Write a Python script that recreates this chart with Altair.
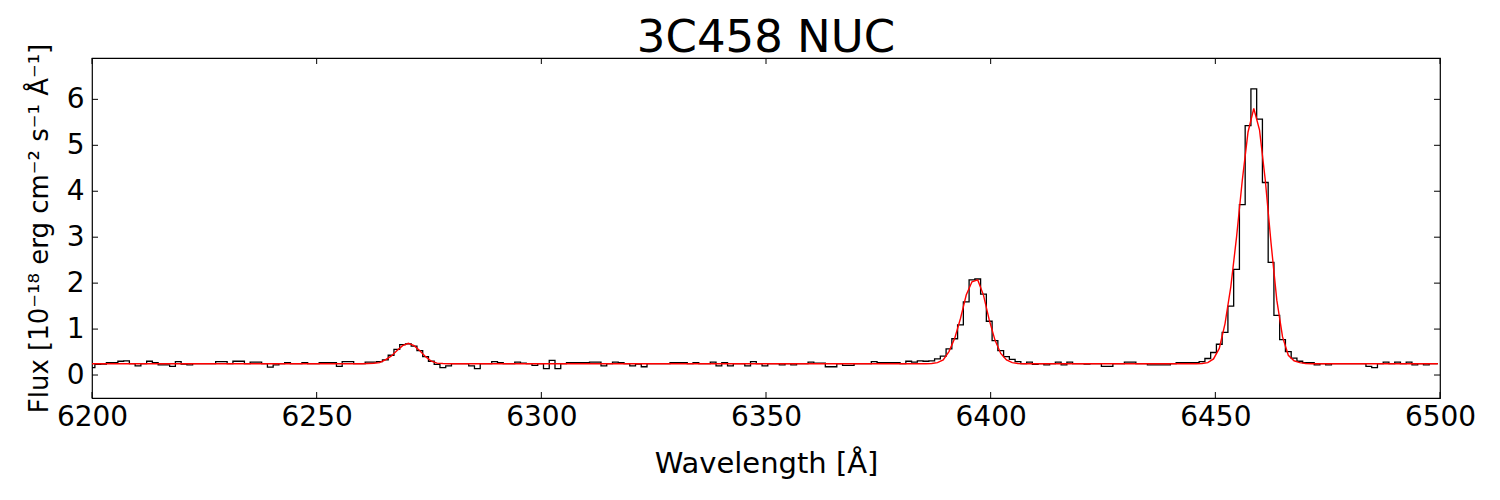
import altair as alt
import pandas as pd

# ---- data ----
bin_start = 6200.0
bin_width = 1.28
flux = [
    0.16, 0.23, 0.24, 0.27, 0.27, 0.30, 0.31, 0.25, 0.20, 0.25,
    0.30, 0.27, 0.22, 0.22, 0.19, 0.29, 0.24, 0.22, 0.25, 0.25,
    0.25, 0.25, 0.29, 0.29, 0.25, 0.30, 0.30, 0.25, 0.28, 0.28,
    0.25, 0.17, 0.22, 0.25, 0.27, 0.25, 0.25, 0.27, 0.25, 0.25,
    0.27, 0.27, 0.27, 0.19, 0.29, 0.29, 0.25, 0.25, 0.28, 0.28,
    0.29, 0.33, 0.43, 0.56, 0.66, 0.68, 0.63, 0.53, 0.40, 0.30,
    0.23, 0.16, 0.20, 0.25, 0.25, 0.25, 0.20, 0.14, 0.25, 0.25,
    0.29, 0.27, 0.25, 0.25, 0.28, 0.26, 0.25, 0.21, 0.25, 0.14,
    0.32, 0.14, 0.25, 0.27, 0.27, 0.27, 0.27, 0.28, 0.28, 0.20,
    0.25, 0.28, 0.27, 0.25, 0.20, 0.24, 0.18, 0.25, 0.25, 0.25,
    0.25, 0.27, 0.27, 0.27, 0.25, 0.27, 0.25, 0.25, 0.28, 0.20,
    0.27, 0.20, 0.25, 0.25, 0.20, 0.29, 0.25, 0.20, 0.25, 0.25,
    0.22, 0.25, 0.22, 0.25, 0.25, 0.28, 0.26, 0.26, 0.18, 0.18,
    0.25, 0.21, 0.21, 0.25, 0.25, 0.25, 0.29, 0.27, 0.27, 0.27,
    0.27, 0.25, 0.30, 0.28, 0.31, 0.30, 0.31, 0.35, 0.41, 0.57,
    0.79, 1.09, 1.59, 2.07, 2.09, 1.76, 1.17, 0.75, 0.53, 0.40,
    0.34, 0.29, 0.25, 0.28, 0.23, 0.25, 0.22, 0.25, 0.28, 0.22,
    0.28, 0.25, 0.25, 0.24, 0.25, 0.25, 0.19, 0.19, 0.25, 0.25,
    0.28, 0.28, 0.25, 0.25, 0.22, 0.22, 0.22, 0.22, 0.25, 0.27,
    0.27, 0.27, 0.27, 0.29, 0.36, 0.49, 0.67, 0.93, 1.50, 2.30,
    3.71, 5.43, 6.23, 5.57, 4.19, 2.45, 1.30, 0.77, 0.51, 0.37,
    0.30, 0.27, 0.27, 0.22, 0.25, 0.22, 0.25, 0.25, 0.25, 0.25,
    0.25, 0.25, 0.19, 0.16, 0.25, 0.28, 0.25, 0.28, 0.25, 0.28,
    0.22, 0.25, 0.22, 0.25, 0.25,
]

model_bins = [
    0, 47, 48, 49, 50, 51, 52, 53, 54, 55, 56, 57, 58, 59, 60, 61, 62,
    145, 146, 147, 148, 149, 150, 151, 152, 153, 154, 155, 156, 157, 158,
    159, 160, 161, 162,
    192, 193, 194, 195, 196, 197, 198, 199, 200, 201, 202, 203, 204, 205,
    206, 207, 208, 209, 210, 211, 212, 234,
]
model_flux = [
    0.245, 0.245, 0.25, 0.255, 0.27, 0.33, 0.41, 0.53, 0.64, 0.69, 0.64,
    0.53, 0.40, 0.30, 0.26, 0.25, 0.245,
    0.245, 0.25, 0.27, 0.33, 0.51, 0.80, 1.23, 1.74, 2.03, 2.07, 1.74,
    1.20, 0.76, 0.47, 0.33, 0.27, 0.25, 0.245,
    0.245, 0.25, 0.27, 0.35, 0.58, 1.12, 1.92, 3.00, 4.24, 5.29, 5.80,
    5.33, 4.24, 2.87, 1.63, 0.83, 0.43, 0.31, 0.27, 0.25, 0.245, 0.245,
]

x_ticks = [6200, 6250, 6300, 6350, 6400, 6450, 6500]
y_ticks = [0, 1, 2, 3, 4, 5, 6]

title_text = "3C458 NUC"
x_title = "Wavelength [Å]"
y_title = "Flux [10⁻¹⁸ erg cm⁻² s⁻¹ Å⁻¹]"

# ---- build tables ----
spec_df = pd.DataFrame({
    "wave": [bin_start + i * bin_width for i in range(len(flux))],
    "flux": flux,
})
model_df = pd.DataFrame({
    "wave": [bin_start + b * bin_width for b in model_bins],
    "flux": model_flux,
})
xt_df = pd.DataFrame({"wave": x_ticks})
yt_df = pd.DataFrame({"flux": y_ticks})
title_df = pd.DataFrame({"label": [title_text]})

W, H = 1348, 340
FONT = "DejaVu Sans"

xscale = alt.Scale(domain=[6200, 6500], nice=False, zero=False)
yscale = alt.Scale(domain=[-0.5, 6.9], nice=False, zero=False)

x_enc = alt.X("wave:Q", scale=xscale,
              axis=alt.Axis(values=x_ticks, format="d", title=x_title,
                            labelPadding=5, titlePadding=18,
                            labelFontSize=28, titleFontSize=29,
                            labelFont=FONT, titleFont=FONT,
                            labelColor="black", titleColor="black",
                            titleFontWeight="normal", labelFlush=False,
                            labelOverlap=False,
                            ticks=False, domain=False, grid=False))
y_enc = alt.Y("flux:Q", scale=yscale,
              axis=alt.Axis(values=y_ticks, format="d", title=y_title,
                            labelPadding=8, titlePadding=14,
                            labelFontSize=28, titleFontSize=26,
                            labelFont=FONT, titleFont=FONT,
                            labelColor="black", titleColor="black",
                            titleFontWeight="normal", labelFlush=False,
                            labelOverlap=False,
                            ticks=False, domain=False, grid=False))

spectrum = alt.Chart(spec_df).mark_line(
    interpolate="step", color="black", strokeWidth=1.3, clip=True
).encode(x=x_enc, y=y_enc)

model = alt.Chart(model_df).mark_line(
    color="#ff0000", strokeWidth=1.4, clip=True
).encode(x=alt.X("wave:Q", scale=xscale), y=alt.Y("flux:Q", scale=yscale))

xt_bottom = alt.Chart(xt_df).mark_rule(color="black", strokeWidth=1).encode(
    x=alt.X("wave:Q", scale=xscale), y=alt.value(H), y2=alt.value(H - 6))
xt_top = alt.Chart(xt_df).mark_rule(color="black", strokeWidth=1).encode(
    x=alt.X("wave:Q", scale=xscale), y=alt.value(0), y2=alt.value(6))
yt_left = alt.Chart(yt_df).mark_rule(color="black", strokeWidth=1).encode(
    y=alt.Y("flux:Q", scale=yscale), x=alt.value(0), x2=alt.value(6))
yt_right = alt.Chart(yt_df).mark_rule(color="black", strokeWidth=1).encode(
    y=alt.Y("flux:Q", scale=yscale), x=alt.value(W), x2=alt.value(W - 6))

title_mark = alt.Chart(title_df).mark_text(
    font=FONT, fontSize=45, color="black", align="center",
    baseline="alphabetic", clip=False
).encode(text="label:N", x=alt.value(W / 2), y=alt.value(-6))

chart = alt.layer(spectrum, model, xt_bottom, xt_top, yt_left, yt_right,
                  title_mark).properties(
    width=W, height=H,
    autosize=alt.AutoSizeParams(type="none"),
    padding={"left": 84, "top": 50, "right": 52, "bottom": 94},
    background="white",
).configure_view(
    stroke="black", strokeWidth=1.2
).configure_axis(
    labelFont=FONT, titleFont=FONT, labelColor="black", titleColor="black",
    titleFontWeight="normal", ticks=False, domain=False, grid=False,
)

chart.save("out.html", embed_options={"renderer": "svg", "actions": False})
